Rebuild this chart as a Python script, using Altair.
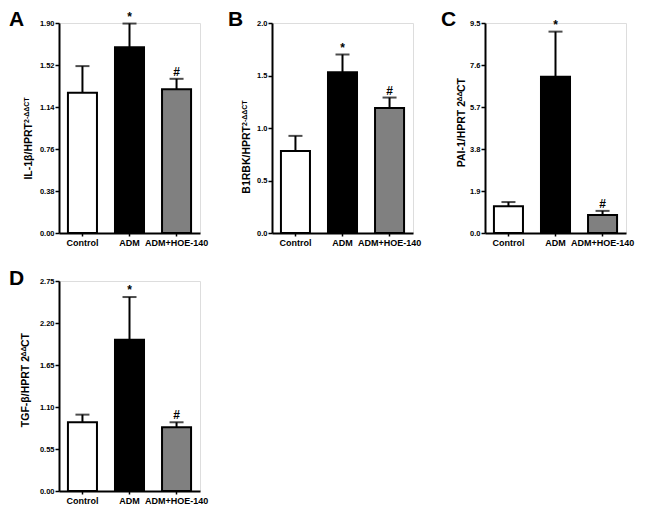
import altair as alt
import pandas as pd

FONT = "Liberation Sans, Arial, sans-serif"

groups = ["Control", "ADM", "ADM+HOE-140"]
bar_colors = ["#ffffff", "#000000", "#808080"]
sig_marks = ["", "*", "#"]

# Panel A: IL-1beta
a_mean = [1.27, 1.68, 1.30]
a_sem = [0.24, 0.215, 0.095]
a_ticks = [0.00, 0.38, 0.76, 1.14, 1.52, 1.90]

# Panel B: B1RBK
b_mean = [0.78, 1.53, 1.19]
b_sem = [0.145, 0.17, 0.10]
b_ticks = [0.0, 0.5, 1.0, 1.5, 2.0]

# Panel C: PAI-1
c_mean = [1.21, 7.07, 0.81]
c_sem = [0.19, 2.04, 0.19]
c_ticks = [0.0, 1.9, 3.8, 5.7, 7.6, 9.5]

# Panel D: TGF-beta
d_mean = [0.90, 1.98, 0.835]
d_sem = [0.10, 0.56, 0.065]
d_ticks = [0.00, 0.55, 1.10, 1.65, 2.20, 2.75]

W, H = 141, 210


def panel(letter, letter_x, letter_y, mean, sem, ticks, fmt, title_parts):
    df = pd.DataFrame({
        "group": groups,
        "mean": mean,
        "upper": [m + s for m, s in zip(mean, sem)],
        "mark": sig_marks,
    })
    yscale = alt.Scale(domain=[0, ticks[-1]], nice=False, zero=True)
    yaxis = alt.Axis(values=ticks, format=fmt, title=None, grid=False,
                     labelFont=FONT, labelFontSize=7.5, labelFontWeight="bold",
                     labelColor="black", tickSize=4, tickWidth=1.5, tickColor="black",
                     domainColor="black", domainWidth=2, labelPadding=1)
    x = alt.X("group:N", sort=groups,
              scale=alt.Scale(paddingInner=0.383, paddingOuter=0.19),
              axis=alt.Axis(title=None, labelAngle=0, labelFont=FONT,
                            labelFontSize=9, labelFontWeight="bold",
                            labelColor="black", tickSize=3, tickWidth=1.5,
                            tickColor="black", domainColor="black",
                            domainWidth=2, labelPadding=2))
    base = alt.Chart(df)
    err = base.mark_rule(color="black", strokeWidth=2).encode(
        x=x, y=alt.Y("mean:Q", scale=yscale, axis=yaxis), y2="upper:Q")
    cap = base.mark_tick(color="black", size=14, thickness=2).encode(
        x=x, y=alt.Y("upper:Q", scale=yscale, axis=yaxis))
    bars = base.mark_bar(stroke="black", strokeWidth=2).encode(
        x=x, y=alt.Y("mean:Q", scale=yscale, axis=yaxis),
        color=alt.Color("group:N", scale=alt.Scale(domain=groups, range=bar_colors),
                        legend=None))
    sig = base.mark_text(font=FONT, fontSize=12, fontWeight="bold",
                         baseline="alphabetic", dy=-3, color="black").encode(
        x=x, y=alt.Y("upper:Q", scale=yscale, axis=yaxis), text="mark:N")
    one = pd.DataFrame({"k": [0]})
    lt = alt.Chart(one).mark_text(font=FONT, fontSize=21, fontWeight="bold",
                                  align="left", baseline="alphabetic",
                                  color="black").encode(
        x=alt.value(letter_x), y=alt.value(letter_y), text=alt.value(letter))
    layers = [err, cap, bars, sig, lt]
    for txt, align, ty, tx, size in title_parts:
        layers.append(
            alt.Chart(one).mark_text(font=FONT, fontSize=size, fontWeight="bold",
                                     angle=270, align=align, baseline="alphabetic",
                                     color="black").encode(
                x=alt.value(tx), y=alt.value(ty), text=alt.value(txt)))
    return alt.layer(*layers).properties(width=W, height=H)


pA = panel("A", -50, 3, a_mean, a_sem, a_ticks, ".2f", [
    ("IL-1β/HPRT", "right", 100, -27, 10.5),
    ("2-ΔΔCT", "left", 100, -30.5, 7),
])
pB = panel("B", -44, 3, b_mean, b_sem, b_ticks, ".1f", [
    ("B1RBK/HPRT", "right", 103, -22, 10.5),
    ("2-ΔΔCT", "left", 103, -25.5, 7),
])
pC = panel("C", -44, 3, c_mean, c_sem, c_ticks, ".1f", [
    ("PAI-1/HPRT 2", "right", 78, -20, 10.5),
    ("ΔΔ", "center", 73.5, -23.5, 7),
    ("CT", "left", 69, -20, 10.5),
])
pD = panel("D", -50, 4, d_mean, d_sem, d_ticks, ".2f", [
    ("TGF-β/HPRT 2", "right", 75, -30, 10.5),
    ("ΔΔ", "center", 70.5, -33.5, 7),
    ("CT", "left", 66, -30, 10.5),
])

chart = alt.concat(pA, pB, pC, pD, columns=3,
                   spacing={"row": 48, "column": 72}, bounds="flush").properties(
    padding={"left": 0, "top": 0, "right": 0, "bottom": 0}
).configure_view(stroke=None).configure(background="white")

chart.save("out.html", embed_options={"renderer": "svg", "actions": False})
